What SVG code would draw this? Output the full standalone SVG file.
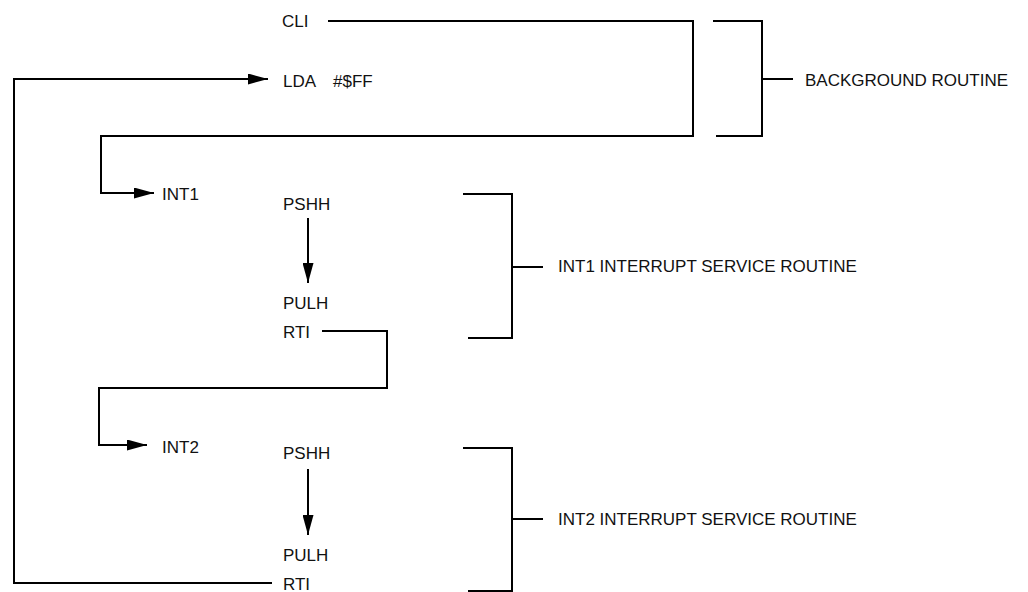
<svg xmlns="http://www.w3.org/2000/svg" width="1028" height="592" viewBox="0 0 1028 592">
<style>
text{font-family:"Liberation Sans",Arial,Helvetica,sans-serif;font-size:17px;fill:#111}
.ln{fill:none;stroke:#000;stroke-width:2}
</style>
<defs>
<marker id="ah" markerUnits="userSpaceOnUse" markerWidth="20" markerHeight="11" refX="20" refY="5.5" orient="auto">
<path d="M0,0 L20,5.5 L0,11 z" fill="#000"/>
</marker>
</defs>
<rect width="1028" height="592" fill="#fff"/>
<g id="connectors">
<path class="ln" d="M328,21 H693 V136 H101 V193 H154" marker-end="url(#ah)"/>
<path class="ln" d="M272,583 H14 V79 H268" marker-end="url(#ah)"/>
<path class="ln" d="M308,218 V283" marker-end="url(#ah)"/>
<path class="ln" d="M322,331 H387 V388 H99 V445 H147" marker-end="url(#ah)"/>
<path class="ln" d="M308,469 V535" marker-end="url(#ah)"/>
</g>
<g id="bracket-background"><path class="ln" d="M713,21 H762 V136 H716 M762,79 H793"/></g>
<g id="bracket-int1"><path class="ln" d="M463,194 H512 V338 H468 M512,267 H543"/></g>
<g id="bracket-int2"><path class="ln" d="M463,448 H512 V591 H468 M512,519 H543"/></g>
<g id="cli"><text x="282" y="27">CLI</text></g>
<g id="lda"><text x="283" y="87">LDA</text><text x="333" y="87">#$FF</text></g>
<g id="int1"><text x="162" y="200">INT1</text></g>
<g id="pshh1"><text x="283" y="210">PSHH</text></g>
<g id="pulh1"><text x="283" y="309">PULH</text></g>
<g id="rti1"><text x="283" y="338">RTI</text></g>
<g id="int2"><text x="162" y="453">INT2</text></g>
<g id="pshh2"><text x="283" y="459">PSHH</text></g>
<g id="pulh2"><text x="283" y="561">PULH</text></g>
<g id="rti2"><text x="283" y="590">RTI</text></g>
<g id="label-background"><text x="805" y="86">BACKGROUND ROUTINE</text></g>
<g id="label-int1"><text x="558" y="272">INT1 INTERRUPT SERVICE ROUTINE</text></g>
<g id="label-int2"><text x="558" y="525">INT2 INTERRUPT SERVICE ROUTINE</text></g>
</svg>
